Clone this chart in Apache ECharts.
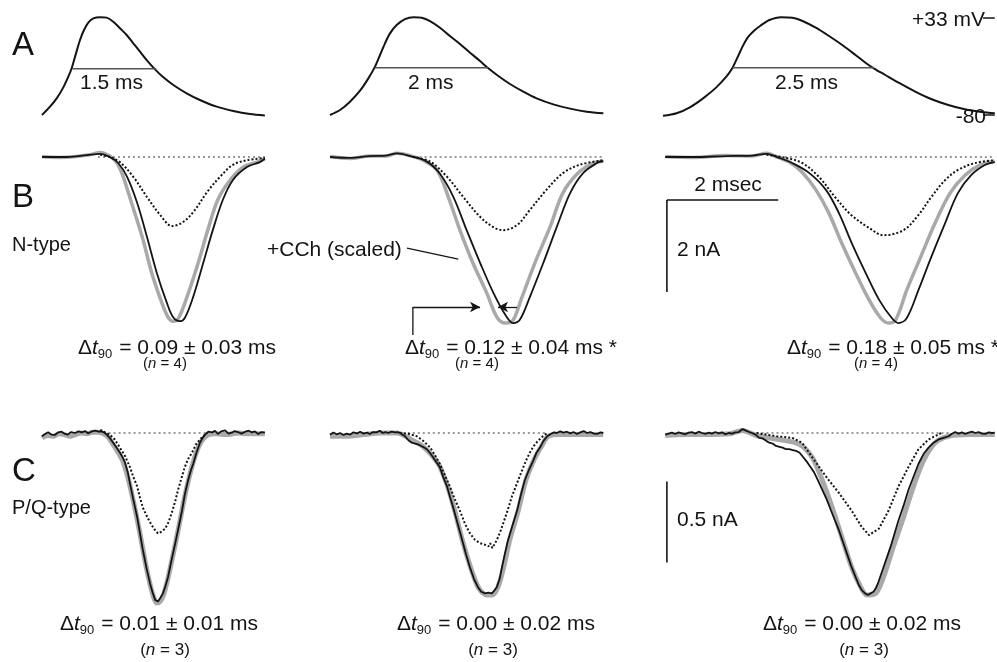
<!DOCTYPE html>
<html><head><meta charset="utf-8">
<script src="https://cdn.jsdelivr.net/npm/echarts/dist/echarts.min.js"></script>
<style>html,body{margin:0;padding:0;background:#fff}#c{width:997px;height:662px}</style>
</head><body><div id="c"></div>
<script>
// ---------- DATA (time in ms, A in mV, B/C in nA) ----------
// Row A: action-potential waveforms (half-widths 1.5, 2, 2.5 ms)
const ap15 = [[0,-80],[0.143,-70.3],[0.262,-60.6],[0.381,-47.8],[0.47,-35.4],[0.53,-25.6],[0.607,-8.2],[0.679,7.4],[0.75,19],[0.827,27.6],[0.917,32.6],[1.036,34],[1.155,33.4],[1.273,28.7],[1.393,21],[1.512,13.2],[1.63,3.5],[1.75,-6.2],[1.87,-16],[2.018,-26.8],[2.167,-36.1],[2.345,-45],[2.583,-54.7],[2.82,-62.5],[3.12,-70.3],[3.416,-75.3],[3.714,-78.8],[3.98,-80.5]];
const ap20 = [[0,-80],[0.179,-74.2],[0.357,-64.5],[0.536,-51.7],[0.685,-37.3],[0.804,-23.7],[0.893,-10.1],[0.982,3.5],[1.071,15.1],[1.19,24.8],[1.339,31.8],[1.488,34],[1.637,33.4],[1.786,29.5],[1.964,21.7],[2.143,12],[2.321,2.7],[2.5,-7.4],[2.679,-17.1],[2.827,-25.6],[3.006,-34.6],[3.214,-43.9],[3.452,-52.8],[3.69,-60.6],[3.988,-67.6],[4.286,-72.6],[4.583,-76.1],[4.881,-78]];
const ap25 = [[0,-81],[0.244,-78],[0.482,-71],[0.72,-60.6],[0.958,-47.8],[1.137,-35.4],[1.244,-25.6],[1.345,-12],[1.435,0.5],[1.53,11],[1.64,18.5],[1.75,24],[1.911,30.7],[2.119,34],[2.327,33.4],[2.506,29.5],[2.744,21.7],[2.982,12],[3.22,1.5],[3.458,-10.1],[3.637,-19.1],[3.786,-25.6],[3.994,-33.4],[4.232,-42.3],[4.53,-52.8],[4.827,-61.7],[5.125,-68.4],[5.423,-73.4],[5.72,-76.5],[5.96,-78]];
const half15 = [[0.54,-26],[2.04,-26]];
const half20 = [[0.8,-25],[2.82,-25]];
const half25 = [[1.25,-25],[3.79,-25]];
const apLabels = ['1.5 ms','2 ms','2.5 ms'];
const vTicks = [33,-80];
const vTickLabels = ['+33 mV','-80'];

// Row B: N-type currents
const bBlack1 = [[0,0],[0.45,0],[0.8,0.04],[1.04,0.07],[1.21,0],[1.36,-0.13],[1.52,-0.43],[1.7,-1.0],[1.875,-1.74],[2.05,-2.52],[2.23,-3.17],[2.34,-3.48],[2.46,-3.57],[2.55,-3.5],[2.7,-3.04],[2.88,-2.3],[3.05,-1.59],[3.23,-0.93],[3.41,-0.5],[3.66,-0.22],[3.89,-0.11],[3.98,-0.04]];
const bGray1 = [[0,0.01],[0.3,-0.01],[0.6,0.01],[0.85,0.05],[1.04,0.1],[1.21,0.02],[1.34,-0.13],[1.45,-0.43],[1.6,-1.0],[1.79,-1.74],[1.96,-2.52],[2.14,-3.17],[2.25,-3.48],[2.34,-3.57],[2.43,-3.52],[2.59,-3.04],[2.79,-2.3],[2.96,-1.59],[3.14,-0.93],[3.36,-0.5],[3.59,-0.22],[3.84,-0.11],[3.98,-0.04]];
const bDot1 = [[1.04,0.05],[1.21,0],[1.39,-0.11],[1.63,-0.43],[1.875,-0.87],[2.11,-1.26],[2.32,-1.5],[2.5,-1.43],[2.7,-1.2],[2.95,-0.76],[3.18,-0.43],[3.41,-0.17],[3.66,-0.07],[3.98,-0.02]];
const bBlack2 = [[0,0],[0.36,-0.02],[0.71,0.02],[1.0,0.03],[1.2,0.08],[1.43,0.02],[1.73,-0.1],[1.96,-0.36],[2.2,-0.86],[2.44,-1.59],[2.68,-2.3],[2.92,-2.96],[3.13,-3.43],[3.27,-3.61],[3.39,-3.54],[3.57,-3.04],[3.81,-2.3],[4.05,-1.52],[4.29,-0.78],[4.52,-0.35],[4.77,-0.13],[4.88,-0.09]];
const bGray2 = [[0,0.01],[0.36,-0.03],[0.71,0.02],[1.0,0.02],[1.2,0.08],[1.43,0.03],[1.66,-0.07],[1.91,-0.28],[2.11,-0.86],[2.32,-1.59],[2.55,-2.3],[2.8,-2.96],[2.98,-3.48],[3.13,-3.61],[3.25,-3.58],[3.43,-3.04],[3.66,-2.3],[3.93,-1.52],[4.16,-0.78],[4.43,-0.35],[4.7,-0.13],[4.88,-0.09]];
const bDot2 = [[1.48,0],[1.79,-0.1],[2.09,-0.43],[2.38,-0.87],[2.68,-1.3],[2.91,-1.52],[3.09,-1.59],[3.34,-1.48],[3.57,-1.15],[3.86,-0.72],[4.16,-0.35],[4.46,-0.17],[4.88,-0.07]];
const bBlack3 = [[0.04,0],[0.54,0],[1.14,0.02],[1.6,0.03],[1.86,0.07],[2.09,-0.02],[2.32,-0.13],[2.63,-0.35],[2.93,-0.72],[3.16,-1.22],[3.39,-1.87],[3.64,-2.52],[3.88,-3.1],[4.11,-3.5],[4.23,-3.61],[4.38,-3.5],[4.59,-2.89],[4.82,-2.17],[5.07,-1.43],[5.3,-0.78],[5.54,-0.39],[5.79,-0.17],[5.96,-0.11]];
const bGray3 = [[0.04,0.01],[0.54,-0.01],[1.14,0.03],[1.6,0.02],[1.86,0.08],[2.05,0],[2.27,-0.11],[2.5,-0.33],[2.75,-0.72],[2.98,-1.22],[3.21,-1.87],[3.46,-2.52],[3.7,-3.1],[3.91,-3.5],[4.05,-3.61],[4.18,-3.54],[4.38,-2.89],[4.63,-2.17],[4.89,-1.43],[5.16,-0.78],[5.43,-0.39],[5.7,-0.17],[5.96,-0.09]];
const bDot3 = [[1.86,0.05],[2.21,-0.02],[2.5,-0.13],[2.8,-0.43],[3.09,-0.87],[3.38,-1.26],[3.7,-1.54],[3.96,-1.7],[4.32,-1.59],[4.59,-1.26],[4.82,-0.87],[5.07,-0.5],[5.3,-0.28],[5.61,-0.13],[5.96,-0.07]];
const bZero1 = [[1.0,0],[3.98,0]];
const bZero2 = [[1.6,0],[4.88,0]];
const bZero3 = [[2.1,0],[5.96,0]];
const bStats = ['0.09 ± 0.03 ms','0.12 ± 0.04 ms *','0.18 ± 0.05 ms *'];
const bN = ['4','4','4'];

// Row C: P/Q-type currents
const cBlack1 = [[0,-0.02],[0.06,-0.005],[0.11,0.005],[0.17,-0.01],[0.23,-0.012],[0.29,0.004],[0.35,0.008],[0.41,-0.006],[0.46,-0.01],[0.52,0.006],[0.59,0.0],[0.65,0.01],[0.71,0.004],[0.77,0.012],[0.82,-0.002],[0.88,0.008],[0.95,0.015],[1.01,0.008],[1.07,0.01],[1.12,0.0],[1.16,-0.012],[1.22,-0.035],[1.27,-0.06],[1.33,-0.09],[1.39,-0.12],[1.44,-0.15],[1.48,-0.18],[1.53,-0.24],[1.57,-0.31],[1.63,-0.41],[1.7,-0.52],[1.75,-0.62],[1.8,-0.72],[1.87,-0.84],[1.93,-0.93],[1.98,-0.99],[2.02,-1.03],[2.07,-1.04],[2.11,-1.02],[2.16,-0.99],[2.2,-0.95],[2.25,-0.89],[2.31,-0.79],[2.38,-0.68],[2.44,-0.58],[2.5,-0.48],[2.55,-0.38],[2.61,-0.29],[2.66,-0.23],[2.7,-0.19],[2.76,-0.12],[2.82,-0.06],[2.87,-0.03],[2.91,-0.01],[2.97,0.008],[3.04,0.004],[3.09,0.014],[3.14,-0.006],[3.2,0.01],[3.27,0.016],[3.33,-0.004],[3.39,0.002],[3.44,0.012],[3.5,0.006],[3.56,-0.004],[3.63,0.008],[3.69,0.014],[3.75,0.004],[3.8,0.01],[3.86,-0.006],[3.92,0.006],[3.98,0.002]];
const cGray1 = [[0,-0.03],[0.1,-0.015],[0.2,-0.02],[0.3,-0.005],[0.4,-0.01],[0.5,-0.02],[0.6,-0.01],[0.7,0],[0.8,-0.005],[0.9,0.005],[1.0,0.005],[1.1,-0.005],[1.18,-0.025],[1.27,-0.07],[1.36,-0.12],[1.45,-0.18],[1.53,-0.27],[1.6,-0.37],[1.68,-0.5],[1.76,-0.64],[1.84,-0.79],[1.92,-0.92],[1.99,-1.01],[2.05,-1.05],[2.11,-1.04],[2.17,-1.0],[2.24,-0.91],[2.31,-0.8],[2.39,-0.67],[2.47,-0.53],[2.55,-0.39],[2.63,-0.27],[2.71,-0.17],[2.79,-0.09],[2.87,-0.04],[2.95,-0.015],[3.1,-0.005],[3.3,-0.01],[3.5,0],[3.7,-0.005],[3.98,-0.005]];
const cDot1 = [[1.04,0.02],[1.12,0.005],[1.21,-0.01],[1.3,-0.04],[1.39,-0.09],[1.48,-0.14],[1.57,-0.21],[1.63,-0.27],[1.7,-0.33],[1.75,-0.4],[1.8,-0.46],[1.88,-0.52],[1.96,-0.57],[2.02,-0.6],[2.07,-0.62],[2.13,-0.61],[2.2,-0.59],[2.26,-0.55],[2.32,-0.49],[2.38,-0.42],[2.43,-0.35],[2.49,-0.28],[2.55,-0.21],[2.61,-0.16],[2.68,-0.12],[2.75,-0.07],[2.82,-0.04],[2.88,-0.02],[2.95,0]];
const cBlack2 = [[0,-0.01],[0.06,0.003],[0.12,-0.008],[0.18,0.0],[0.24,-0.012],[0.3,-0.004],[0.36,-0.01],[0.42,0.004],[0.48,-0.002],[0.54,0.008],[0.6,-0.004],[0.66,0.002],[0.71,-0.006],[0.77,0.006],[0.83,0.004],[0.89,0.014],[0.94,0.0],[0.99,0.006],[1.04,0.0],[1.1,0.008],[1.16,0.004],[1.21,0.006],[1.27,-0.005],[1.34,-0.02],[1.4,-0.045],[1.46,-0.06],[1.52,-0.065],[1.57,-0.07],[1.63,-0.08],[1.68,-0.09],[1.73,-0.1],[1.79,-0.125],[1.84,-0.15],[1.9,-0.18],[1.96,-0.21],[2.02,-0.27],[2.09,-0.33],[2.14,-0.39],[2.2,-0.46],[2.28,-0.56],[2.36,-0.66],[2.43,-0.75],[2.5,-0.83],[2.57,-0.9],[2.64,-0.95],[2.7,-0.98],[2.77,-0.99],[2.83,-0.985],[2.89,-0.99],[2.94,-0.97],[2.98,-0.95],[3.03,-0.9],[3.07,-0.83],[3.12,-0.75],[3.18,-0.66],[3.26,-0.57],[3.34,-0.48],[3.41,-0.38],[3.48,-0.29],[3.55,-0.23],[3.63,-0.17],[3.69,-0.12],[3.75,-0.09],[3.81,-0.05],[3.88,-0.02],[3.95,-0.005],[4.0,0.004],[4.05,0.0],[4.11,0.01],[4.17,0.002],[4.23,0.008],[4.29,-0.002],[4.35,0.006],[4.41,-0.006],[4.47,0.004],[4.53,0.012],[4.59,0.0],[4.65,0.006],[4.71,-0.004],[4.77,-0.006],[4.83,0.004],[4.88,0.0]];
const cGray2 = [[0,-0.02],[0.3,-0.02],[0.6,-0.01],[0.9,0],[1.2,0],[1.35,-0.02],[1.5,-0.05],[1.65,-0.08],[1.8,-0.13],[1.95,-0.2],[2.1,-0.33],[2.22,-0.47],[2.37,-0.67],[2.52,-0.84],[2.66,-0.96],[2.8,-1.0],[2.9,-1.0],[3.0,-0.95],[3.1,-0.83],[3.21,-0.66],[3.36,-0.48],[3.5,-0.29],[3.65,-0.16],[3.78,-0.08],[3.9,-0.02],[4.1,-0.01],[4.5,-0.01],[4.88,-0.01]];
const cDot2 = [[1.25,0],[1.4,-0.005],[1.55,-0.02],[1.67,-0.05],[1.79,-0.09],[1.88,-0.14],[1.96,-0.19],[2.05,-0.26],[2.14,-0.33],[2.23,-0.41],[2.32,-0.48],[2.41,-0.56],[2.5,-0.62],[2.59,-0.66],[2.68,-0.68],[2.77,-0.69],[2.83,-0.7],[2.86,-0.68],[2.9,-0.71],[2.98,-0.66],[3.04,-0.61],[3.09,-0.56],[3.17,-0.48],[3.25,-0.39],[3.34,-0.31],[3.43,-0.23],[3.5,-0.17],[3.57,-0.12],[3.64,-0.08],[3.71,-0.05],[3.8,-0.02],[3.88,0]];
const cBlack3 = [[0.04,-0.01],[0.1,-0.004],[0.16,0.002],[0.22,-0.006],[0.28,0.004],[0.34,-0.002],[0.4,-0.008],[0.46,0.002],[0.52,0.006],[0.58,-0.004],[0.64,0.008],[0.7,0.0],[0.76,-0.006],[0.82,0.002],[0.88,-0.004],[0.94,0.006],[1.0,-0.002],[1.06,0.004],[1.12,-0.008],[1.18,0.0],[1.24,-0.004],[1.3,0.004],[1.36,0.006],[1.43,0.025],[1.49,0.015],[1.55,0.006],[1.6,0.0],[1.66,-0.01],[1.73,-0.03],[1.8,-0.035],[1.86,-0.05],[1.91,-0.06],[1.97,-0.065],[2.03,-0.08],[2.09,-0.085],[2.15,-0.09],[2.21,-0.1],[2.27,-0.1],[2.33,-0.105],[2.39,-0.11],[2.45,-0.12],[2.52,-0.15],[2.59,-0.18],[2.65,-0.21],[2.71,-0.24],[2.78,-0.29],[2.86,-0.35],[2.94,-0.41],[3.02,-0.48],[3.09,-0.54],[3.16,-0.6],[3.23,-0.67],[3.3,-0.74],[3.38,-0.82],[3.46,-0.89],[3.52,-0.94],[3.57,-0.97],[3.63,-0.99],[3.68,-1.0],[3.73,-0.99],[3.78,-0.98],[3.82,-0.96],[3.87,-0.92],[3.93,-0.86],[4.01,-0.78],[4.09,-0.7],[4.16,-0.62],[4.23,-0.54],[4.32,-0.45],[4.41,-0.35],[4.5,-0.27],[4.59,-0.19],[4.68,-0.13],[4.77,-0.09],[4.86,-0.06],[4.95,-0.04],[5.04,-0.03],[5.13,-0.02],[5.19,-0.005],[5.25,0.006],[5.31,-0.004],[5.37,0.004],[5.43,-0.006],[5.49,0.002],[5.55,0.008],[5.61,0.0],[5.67,0.006],[5.73,-0.004],[5.79,-0.006],[5.85,0.004],[5.91,0.0],[5.96,0.002]];
const cGray3 = [[0.04,-0.015],[0.4,-0.01],[0.8,-0.01],[1.2,-0.005],[1.43,0.015],[1.6,-0.005],[1.73,-0.02],[2.09,-0.04],[2.45,-0.07],[2.68,-0.15],[2.86,-0.29],[3.04,-0.46],[3.21,-0.64],[3.39,-0.83],[3.55,-0.95],[3.66,-1.0],[3.82,-0.99],[3.96,-0.89],[4.14,-0.7],[4.32,-0.52],[4.5,-0.33],[4.68,-0.17],[4.89,-0.06],[5.13,-0.02],[5.5,-0.01],[5.96,-0.01]];
const cDot3 = [[1.68,0],[2.04,-0.02],[2.32,-0.03],[2.5,-0.06],[2.68,-0.15],[2.93,-0.27],[3.16,-0.37],[3.39,-0.48],[3.57,-0.58],[3.7,-0.63],[3.88,-0.59],[4.05,-0.48],[4.23,-0.33],[4.41,-0.21],[4.59,-0.1],[4.77,-0.04],[5.0,0]];
const cZero1 = [[1.1,0],[2.95,0]];
const cZero2 = [[1.3,0],[3.88,0]];
const cZero3 = [[1.68,0],[5.18,0]];
const cStats = ['0.01 ± 0.01 ms','0.00 ± 0.02 ms','0.00 ± 0.02 ms'];
const cN = ['3','3','3'];

// Scale bars (data units)
const barB_time = [[0.07,-0.935],[2.07,-0.935]];   // 2 msec
const barB_amp = [[0.07,-0.935],[0.07,-2.935]];    // 2 nA
const barC_amp = [[0.07,-0.30],[0.07,-0.80]];      // 0.5 nA
const leader = [[1.375,-1.98],[2.29,-2.22]];        // +CCh (scaled) pointer
const bracket = [[1.48,-3.87],[1.48,-3.26]];

// ---------- LAYOUT ----------
const PXMS = 56;
const cols = [{left:42,max:4.1},{left:330,max:4.9},{left:663,max:6.0}];
const rows = [
  {top:18, min:-80, max:33, h:97},
  {top:157-0.2*46, min:-4, max:0.2, h:4.2*46},
  {top:433-0.1*162, min:-1.1, max:0.1, h:1.2*162}
];
const grids=[], xAxes=[], yAxes=[];
rows.forEach((r,ri)=>cols.forEach((c,ci)=>{
  grids.push({left:c.left, top:r.top, width:c.max*PXMS, height:r.h, containLabel:false, show:false});
  const gi = ri*3+ci;
  xAxes.push({type:'value', gridIndex:gi, min:0, max:c.max, show:false});
  yAxes.push({type:'value', gridIndex:gi, min:r.min, max:r.max, show:false});
}));
const FONT = "'Liberation Sans', Arial, Helvetica, sans-serif";
const INK = '#141414';
const GRAY = '#a9a9a9';
function L(gi, data, ls, smooth){
  return {type:'line', xAxisIndex:gi, yAxisIndex:gi, data:data, symbol:'none', showSymbol:false,
    smooth: smooth===undefined?false:smooth, clip:false, silent:true, animation:false, lineStyle:ls, z:2};
}
const gray = w=>({color:GRAY, width:w});
const black = w=>({color:INK, width:w});
const dotted = {color:INK, width:2, type:[2,2]};
const zeroLine = {color:'#333', width:1, type:[2,3]};

const series = [];
// Row A
[ap15,ap20,ap25].forEach((d,i)=>series.push(L(i,d,black(2),0.3)));
[half15,half20,half25].forEach((d,i)=>series.push(L(i,d,{color:'#555',width:1.5})));
vTicks.forEach(v=>series.push(L(2,[[5.75,v],[5.96,v]],black(1.5))));
// Row B
const bG=[bGray1,bGray2,bGray3], bB=[bBlack1,bBlack2,bBlack3], bD=[bDot1,bDot2,bDot3], bZ=[bZero1,bZero2,bZero3];
for(let i=0;i<3;i++){
  series.push(L(3+i,bZ[i],zeroLine));
  series.push(L(3+i,bG[i],gray(3.5),0.35));
  series.push(L(3+i,bB[i],black(1.8),0.35));
  series.push(L(3+i,bD[i],dotted,0.35));
}
series.push(L(5,barB_time,black(1.6)));
series.push(L(5,barB_amp,black(1.6)));
series.push(L(4,leader,black(1.2)));
const br = L(4,bracket,black(1.3));
br.markLine = {silent:true, symbol:['none','arrow'], symbolSize:[8,10], label:{show:false},
  lineStyle:{color:INK,width:1.3,type:'solid'}, animation:false,
  data:[[{coord:[1.48,-3.26]},{coord:[2.68,-3.26]}],[{coord:[3.34,-3.26]},{coord:[3.0,-3.26]}]]};
series.push(br);
// Row C
const cG=[cGray1,cGray2,cGray3], cB=[cBlack1,cBlack2,cBlack3], cD=[cDot1,cDot2,cDot3], cZ=[cZero1,cZero2,cZero3];
for(let i=0;i<3;i++){
  series.push(L(6+i,cZ[i],zeroLine));
  series.push(L(6+i,cG[i],gray(5),0.3));
  series.push(L(6+i,cB[i],black(1.8)));
  series.push(L(6+i,cD[i],dotted));
}
series.push(L(8,barC_amp,black(1.6)));

// ---------- TEXT ----------
const g = [];
function T(x,y,text,size,align,extra){
  g.push({type:'text', x:x, y:y, silent:true, style:Object.assign({text:text, fill:INK, fontSize:size, fontFamily:FONT, align:align||'left', verticalAlign:'middle'}, extra||{})});
}
T(12,46,'A',33); T(12,198,'B',33); T(12,472,'C',33);
T(12,245,'N-type',20); T(12,508,'P/Q-type',20);
T(80,83,apLabels[0],21); T(408,83,apLabels[1],21); T(775,83,apLabels[2],21);
T(985,20,vTickLabels[0],21,'right'); T(986,117,vTickLabels[1],21,'right');
T(267,250,'+CCh (scaled)',21);
T(728,185,'2 msec',21,'center');
T(677,250,'2 nA',21);
T(677,520,'0.5 nA',21);
const rich = {
  d:{fontSize:21,fontFamily:FONT,fill:INK},
  i:{fontSize:21,fontFamily:FONT,fontStyle:'italic',fill:INK},
  s:{fontSize:13,fontFamily:FONT,fill:INK,padding:[13,1,0,0]},
  n:{fontSize:21,fontFamily:FONT,fill:INK},
  p:{fontSize:15,fontFamily:FONT,fill:INK},
  q:{fontSize:15,fontFamily:FONT,fontStyle:'italic',fill:INK},
  P:{fontSize:17,fontFamily:FONT,fill:INK},
  Q:{fontSize:17,fontFamily:FONT,fontStyle:'italic',fill:INK}
};
function dt(x,y,s){ T(x,y,'{d|Δ}{i|t}{s|90}{n| = '+s+'}',21,'left',{rich:rich}); }
function nn(x,y,n,big){ const a=big?'P':'p', b=big?'Q':'q'; T(x,y,'{'+a+'|(}{'+b+'|n}{'+a+'| = '+n+')}',15,'center',{rich:rich}); }
dt(78,348,bStats[0]); dt(405,348,bStats[1]); dt(787,348,bStats[2]);
nn(165,364,bN[0]); nn(477,364,bN[1]); nn(876,364,bN[2]);
dt(60,624,cStats[0]); dt(397,624,cStats[1]); dt(763,624,cStats[2]);
nn(165,650,cN[0],true); nn(493,650,cN[1],true); nn(864,650,cN[2],true);

const chart = echarts.init(document.getElementById('c'), null, {renderer:'canvas'});
chart.setOption({backgroundColor:'#fff', animation:false, grid:grids, xAxis:xAxes, yAxis:yAxes, series:series, graphic:{elements:g}});
</script></body></html>
